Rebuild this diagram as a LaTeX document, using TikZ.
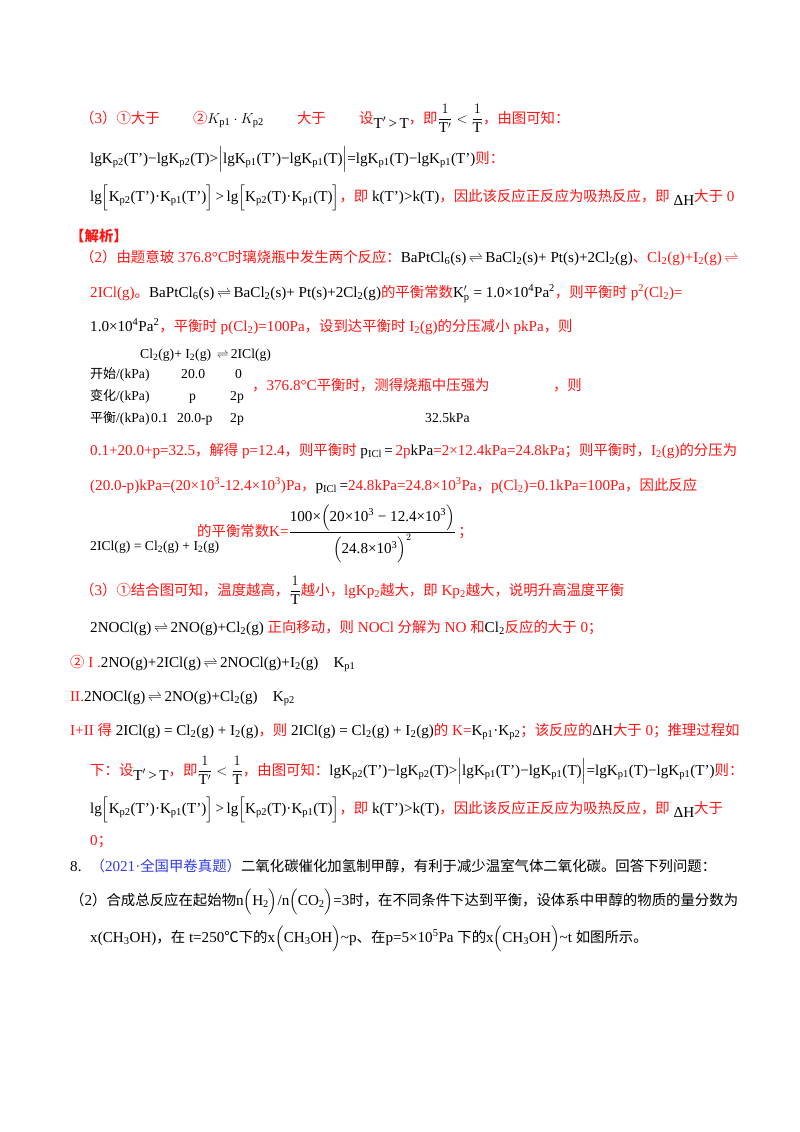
\documentclass[tikz,border=0pt]{standalone}
\usepackage{amsmath}
\usepackage{fontspec}
\setmainfont{Liberation Serif}[Scale=1.05]
\newfontfamily\latinf{Liberation Serif}[Scale=1.05]
\newfontfamily\cjk{Noto Sans CJK SC}
\XeTeXinterchartokenstate=1
\newXeTeXintercharclass\CJKcls
\count255="3000
\loop\ifnum\count255<"A000 \XeTeXcharclass\count255=\CJKcls \advance\count255 by 1 \repeat
\count255="FF00
\loop\ifnum\count255<"FFF0 \XeTeXcharclass\count255=\CJKcls \advance\count255 by 1 \repeat
\count255="2460
\loop\ifnum\count255<"2500 \XeTeXcharclass\count255=\CJKcls \advance\count255 by 1 \repeat
\XeTeXcharclass"2103=\CJKcls
\XeTeXinterchartoks 0 \CJKcls = {\cjk}
\XeTeXinterchartoks 4095 \CJKcls = {\cjk}
\XeTeXinterchartoks \CJKcls 0 = {\latinf}
\XeTeXinterchartoks \CJKcls 4095 = {\latinf}
\definecolor{rd}{RGB}{255,20,20}
\definecolor{bl}{RGB}{50,60,230}
\newcommand\R[1]{\textcolor{rd}{#1}}
\newcommand\sbs[1]{\textsubscript{#1}}
\newcommand\sps[1]{\textsuperscript{#1}}
\newcommand\eqa{\,$\rightleftharpoons$\,}
\newcommand\lgline{lgK\sbs{p2}(T')−lgK\sbs{p2}(T)>$\Big|$lgK\sbs{p1}(T')−lgK\sbs{p1}(T)$\Big|$=lgK\sbs{p1}(T)−lgK\sbs{p1}(T')}
\newcommand\brline{lg$\Big[$K\sbs{p2}(T')·K\sbs{p1}(T')$\Big]$\,>\,lg$\Big[$K\sbs{p2}(T)·K\sbs{p1}(T)$\Big]$}
\newcommand\TT{\raisebox{-5pt}{T$'$\,>\,T}}
\newcommand\frT{$\dfrac{1}{\mathrm{T}'}<\dfrac{1}{\mathrm{T}}$}
\tikzset{t/.style={anchor=base west,inner sep=0pt,font=\fontsize{14.4}{17}\selectfont},
 ts/.style={t,font=\fontsize{13}{15}\selectfont}}
\begin{document}
\begin{tikzpicture}[x=1pt,y=-1pt]
\useasboundingbox[fill=white] (0,0) rectangle (800,1132);
\node[t] (l1) at (80,123) {\R{（3）①大于\hspace{2.2em}②}$K_{\mathrm{p1}}\cdot K_{\mathrm{p2}}$\R{\hspace{2.2em}大于\hspace{2.2em}设}\TT\R{，即}\frT\R{，由图可知：}};
\node[t] (l2) at (90,163) {\lgline\R{则：}};
\node[t] (l3) at (90,201) {\brline\R{，即 }k(T')>k(T)\R{，因此该反应正反应为吸热反应，即 }\raisebox{-4pt}{ΔH}\R{ 大于 0}};
\node[t] (l4) at (70,241) {\R{\bfseries 【解析】}};
\node[t] (l5) at (80,262) {\R{（2）由题意玻 376.8°C时璃烧瓶中发生两个反应：}BaPtCl\sbs{6}(s)\eqa BaCl\sbs{2}(s)+ Pt(s)+2Cl\sbs{2}(g)\R{、Cl\sbs{2}(g)+I\sbs{2}(g)\eqa}};
\node[t] (l6) at (90,297) {\R{2ICl(g)。}BaPtCl\sbs{6}(s)\eqa BaCl\sbs{2}(s)+ Pt(s)+2Cl\sbs{2}(g)\R{的平衡常数}K$'_{\mathrm{p}}$ = 1.0×10\sps{4}Pa\sps{2}\R{，则平衡时 p\sps{2}(Cl\sbs{2})=}};
\node[t] (l7) at (90,331) {1.0×10\sps{4}Pa\sps{2}\R{，平衡时 p(Cl\sbs{2})=100Pa，设到达平衡时 I\sbs{2}(g)的分压减小 pkPa，则}};
\node[ts] (th) at (140,358) {Cl\sbs{2}(g)+ I\sbs{2}(g) \eqa 2ICl(g)};
\node[ts] (r1) at (90,378) {开始/(kPa)};
\node[ts] (r1a) at (181,378) {20.0};
\node[ts] (r1b) at (235,378) {0};
\node[ts] (r2) at (90,400) {变化/(kPa)};
\node[ts] (r2a) at (189,400) {p};
\node[ts] (r2b) at (230,400) {2p};
\node[ts] (r3) at (90,422) {平衡/(kPa)};
\node[ts] (r3z) at (151,422) {0.1};
\node[ts] (r3a) at (177,422) {20.0-p};
\node[ts] (r3b) at (230,422) {2p};
\node[t] (side) at (252,390) {\R{，376.8°C平衡时，测得烧瓶中压强为\hspace{4.2em}，则}};
\node[ts] (kp) at (425,422) {32.5kPa};
\node[t] (l8) at (90,455) {\R{0.1+20.0+p=32.5，解得 p=12.4，则平衡时 }p\sbs{ICl}\,=\,\R{2p}kPa\R{ =2×12.4kPa=24.8kPa；则平衡时，I\sbs{2}(g)的分压为}};
\node[t] (l9) at (90,490) {\R{(20.0-p)kPa=(20×10\sps{3}-12.4×10\sps{3})Pa，}p\sbs{ICl}\,=\R{ 24.8kPa=24.8×10\sps{3}Pa，p(Cl\sbs{2})=0.1kPa=100Pa，因此反应}};
\node[ts] (l10a) at (90,550) {2ICl(g) = Cl\sbs{2}(g) + I\sbs{2}(g)};
\node[t] (l10b) at (197,536) {\R{的平衡常数K=}$\dfrac{\mbox{100×$\Big($20×10\sps{3} − 12.4×10\sps{3}$\Big)$}}{\mbox{$\Big($24.8×10\sps{3}$\Big)^{2}$}}$\,\R{；}};
\node[t] (l11) at (80,595) {\R{（3）①结合图可知，温度越高，}$\dfrac{1}{\mathrm{T}}$\R{越小，lgKp\sbs{2}越大，即 Kp\sbs{2}越大，说明升高温度平衡}};
\node[t] (l12) at (90,632) {2NOCl(g)\eqa 2NO(g)+Cl\sbs{2}(g) \R{正向移动，则 NOCl 分解为 NO 和}Cl\sbs{2}\R{ 反应的大于 0；}};
\node[t] (l13) at (70,667) {\R{② I .}2NO(g)+2ICl(g)\eqa 2NOCl(g)+I\sbs{2}(g)\quad K\sbs{p1}};
\node[t] (l14) at (70,701) {\R{II.}2NOCl(g)\eqa 2NO(g)+Cl\sbs{2}(g)\quad K\sbs{p2}};
\node[t] (l15) at (70,735) {\R{I+II 得 }2ICl(g) = Cl\sbs{2}(g) + I\sbs{2}(g)\R{，则 }2ICl(g) = Cl\sbs{2}(g) + I\sbs{2}(g)\R{的 K=}K\sbs{p1}·K\sbs{p2}\R{；该反应的}ΔH\R{大于 0；推理过程如}};
\node[t] (l16) at (90,775) {\R{下：设}\TT\R{，即}\frT\R{，由图可知：}\lgline\R{则：}};
\node[t] (l17) at (90,813) {\brline\R{，即 }k(T')>k(T)\R{，因此该反应正反应为吸热反应，即 }\raisebox{-4pt}{ΔH}\R{ 大于}};
\node[t] (l18) at (90,845) {\R{0；}};
\node[t] (l19) at (70,871) {8.\hspace{0.6em}\textcolor{bl}{（2021·全国甲卷真题）}二氧化碳催化加氢制甲醇，有利于减少温室气体二氧化碳。回答下列问题：};
\node[t] (l20) at (70,905) {（2）合成总反应在起始物n$\Big($H\sbs{2}$\Big)$/n$\Big($CO\sbs{2}$\Big)$=3时，在不同条件下达到平衡，设体系中甲醇的物质的量分数为};
\node[t] (l21) at (90,942) {x(CH\sbs{3}OH)，在 t=250℃下的x$\Big($CH\sbs{3}OH$\Big)$\textasciitilde p、在p=5×10\sps{5}Pa 下的x$\Big($CH\sbs{3}OH$\Big)$\textasciitilde t 如图所示。};
\end{tikzpicture}
\end{document}
